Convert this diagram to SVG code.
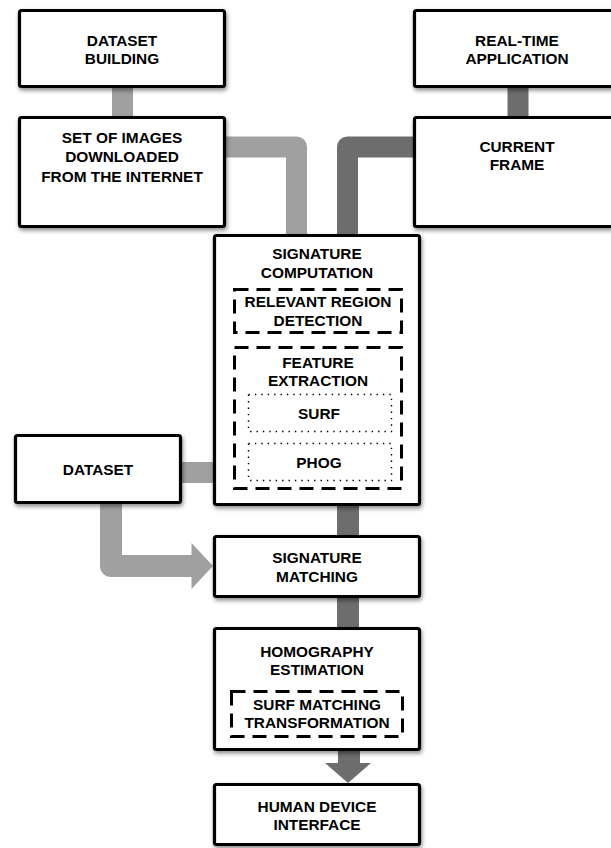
<svg xmlns="http://www.w3.org/2000/svg" width="611" height="848" viewBox="0 0 611 848">
<defs>
<filter id="sh" x="-10%" y="-10%" width="125%" height="130%">
<feDropShadow dx="1" dy="2.5" stdDeviation="2" flood-color="#000" flood-opacity="0.45"/>
</filter>
<style>
.box{fill:#fff;stroke:#000;stroke-width:3.2}
.dash{fill:none;stroke:#000;stroke-width:3;stroke-dasharray:14 8}
.dot{fill:none;stroke:#000;stroke-width:1.4;stroke-dasharray:1.4 5}
text{font-family:"Liberation Sans",Arial,Helvetica,sans-serif;font-weight:bold;font-size:15.4px;text-anchor:middle;fill:#000}
.lt{fill:none;stroke:#a0a0a0}
.dk{fill:none;stroke:#6d6d6d}
</style>
</defs>
<rect width="611" height="848" fill="#fff"/>
<g id="connectors">
<line class="lt" x1="122.5" y1="86" x2="122.5" y2="118" stroke-width="21"/>
<line class="dk" x1="518" y1="86" x2="518" y2="118" stroke-width="21"/>
<path class="lt" d="M224 147 H296.5 V236" stroke-width="21" stroke-linejoin="round"/>
<path class="dk" d="M415 147 H347.5 V236" stroke-width="21" stroke-linejoin="round"/>
<line class="lt" x1="180" y1="472.5" x2="215" y2="472.5" stroke-width="21"/>
<line class="dk" x1="348" y1="504" x2="348" y2="537" stroke-width="22"/>
<line class="dk" x1="348" y1="596" x2="348" y2="629" stroke-width="22"/>
<line class="dk" x1="349" y1="749" x2="349" y2="764" stroke-width="22"/>
<polygon points="325,763 371,763 348,783" fill="#6d6d6d"/>
<path class="lt" d="M111 502 V566 H193" stroke-width="22" stroke-linejoin="round"/>
<polygon points="191.5,543 191.5,589 213,566" fill="#a0a0a0"/>
</g>
<g id="dataset-building">
<rect class="box" x="19.5" y="10.5" width="205" height="76" rx="2" filter="url(#sh)"/>
<text x="122" y="45.5">DATASET</text>
<text x="122" y="64">BUILDING</text>
</g>
<g id="set-of-images">
<rect class="box" x="19.5" y="117.5" width="205" height="109" rx="2" filter="url(#sh)"/>
<text x="122" y="143">SET OF IMAGES</text>
<text x="122" y="162">DOWNLOADED</text>
<text x="122" y="181.5">FROM THE INTERNET</text>
</g>
<g id="real-time-application">
<rect class="box" x="414.5" y="10.5" width="205" height="76" rx="2" filter="url(#sh)"/>
<text x="517" y="45.5">REAL-TIME</text>
<text x="517" y="64">APPLICATION</text>
</g>
<g id="current-frame">
<rect class="box" x="414.5" y="117.5" width="205" height="109" rx="2" filter="url(#sh)"/>
<text x="517" y="151.7">CURRENT</text>
<text x="517" y="170">FRAME</text>
</g>
<g id="signature-computation">
<rect class="box" x="214.5" y="235.5" width="205" height="269" rx="2" filter="url(#sh)"/>
<text x="317" y="259.3">SIGNATURE</text>
<text x="317" y="278.3">COMPUTATION</text>
<g id="relevant-region-detection">
<rect class="dash" x="234.5" y="289.5" width="167" height="43"/>
<text x="318" y="307.3">RELEVANT REGION</text>
<text x="318" y="326">DETECTION</text>
</g>
<g id="feature-extraction">
<rect class="dash" x="234.5" y="347.5" width="167" height="141"/>
<text x="318" y="367.7">FEATURE</text>
<text x="318" y="386">EXTRACTION</text>
<g id="surf">
<rect class="dot" x="248.5" y="394.5" width="143" height="37"/>
<text x="319" y="419.3">SURF</text>
</g>
<g id="phog">
<rect class="dot" x="248.5" y="443.5" width="143" height="37"/>
<text x="319" y="468">PHOG</text>
</g>
</g>
</g>
<g id="dataset">
<rect class="box" x="15.5" y="435.5" width="165" height="67" rx="2" filter="url(#sh)"/>
<text x="98" y="475">DATASET</text>
</g>
<g id="signature-matching">
<rect class="box" x="214.5" y="536.5" width="205" height="60" rx="2" filter="url(#sh)"/>
<text x="317" y="563.3">SIGNATURE</text>
<text x="317" y="581.7">MATCHING</text>
</g>
<g id="homography-estimation">
<rect class="box" x="214.5" y="628.5" width="205" height="121" rx="2" filter="url(#sh)"/>
<text x="317" y="656.7">HOMOGRAPHY</text>
<text x="317" y="675">ESTIMATION</text>
<g id="surf-matching-transformation">
<rect class="dash" x="231.5" y="691.5" width="171" height="45"/>
<text x="317" y="710">SURF MATCHING</text>
<text x="317" y="728.3">TRANSFORMATION</text>
</g>
</g>
<g id="human-device-interface">
<rect class="box" x="214.5" y="784.5" width="205" height="60" rx="2" filter="url(#sh)"/>
<text x="317" y="811.7">HUMAN DEVICE</text>
<text x="317" y="830">INTERFACE</text>
</g>
</svg>
